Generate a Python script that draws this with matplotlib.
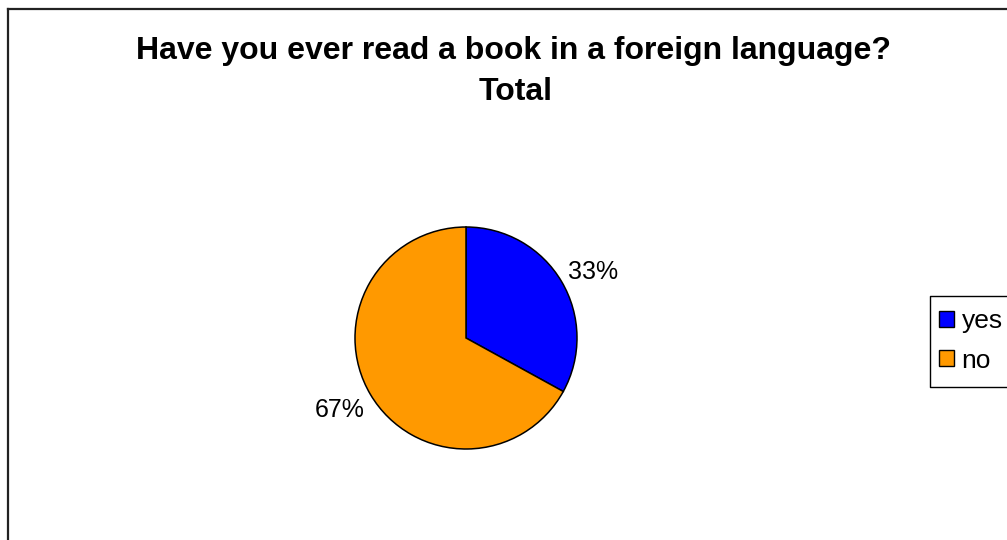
import matplotlib
matplotlib.use("Agg")
import matplotlib.pyplot as plt
from matplotlib.lines import Line2D
from matplotlib.patches import Patch
import matplotlib.transforms as mtransforms

plt.rcParams['font.family'] = ['Liberation Sans', 'DejaVu Sans']

# Survey answers
answers = ["yes", "no"]
shares = [33, 67]
colors = ["#0000FF", "#FF9900"]
title_lines = ["Have you ever read a book in a foreign language?", "Total"]

W, H = 1007, 540
fig = plt.figure(figsize=(W / 100, H / 100), dpi=100)
fig.patch.set_facecolor("white")
fig.patch.set_edgecolor("white")
fig.patch.set_linewidth(0)

def fx(px):
    return px / W

def fy(py):
    return 1 - py / H

def fig_line(xs, ys, **kw):
    fig.add_artist(Line2D([fx(x) for x in xs], [fy(y) for y in ys],
                          transform=fig.transFigure, **kw))

# Chart area frame (left and top edges only)
fig_line([8, 8], [9, 560], color="#222222", lw=1.6)
fig_line([8, 1030], [9, 9], color="#222222", lw=1.6)

# Title
fig.text(fx(514), fy(59), title_lines[0], ha="center", va="baseline",
         fontsize=23, fontweight="bold")
fig.text(fx(516), fy(100), title_lines[1], ha="center", va="baseline",
         fontsize=23, fontweight="bold")

# Pie
cx, cy, r = 466, 338, 111
ax = fig.add_axes([fx(cx - r), fy(cy + r), 2 * r / W, 2 * r / H])
wedges, _, autotexts = ax.pie(
    shares, colors=colors, startangle=88, counterclock=False,
    autopct="%.0f%%", pctdistance=1.3, radius=1,
    wedgeprops=dict(edgecolor="black", linewidth=1.1),
    textprops=dict(fontsize=18, color="black"),
)
# wedges at the exact 12 o'clock start, labels keep the slight offset
for w in wedges:
    w.set_theta1(w.theta1 + 2)
    w.set_theta2(w.theta2 + 2)
shift = mtransforms.ScaledTranslation(0, -3 / 100, fig.dpi_scale_trans)
for t in autotexts:
    t.set_clip_on(False)
    t.set_transform(t.get_transform() + shift)
ax.set_xlim(-1, 1)
ax.set_ylim(-1, 1)
ax.set_aspect("equal")
ax.axis("off")

# Legend box running off the right edge (left, top, bottom sides)
fig_line([1030, 930, 930, 1030], [296, 296, 387, 387], color="black", lw=1.0)
handles = [Patch(facecolor=c, edgecolor="black", linewidth=1.0) for c in colors]
leg = fig.legend(handles, answers, loc="upper left",
                 bbox_to_anchor=(fx(926), fy(296)), bbox_transform=fig.transFigure,
                 borderaxespad=0, fontsize=19, frameon=False,
                 handlelength=0.55, handleheight=0.55,
                 handletextpad=0.3, labelspacing=0.58, borderpad=0.5)

fig.savefig("out.png", dpi=100, facecolor="white")
